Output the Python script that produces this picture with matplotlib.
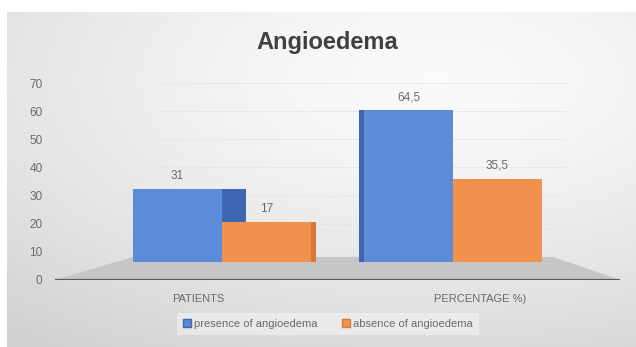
"""Angioedema: 3D-style column chart recreated with matplotlib."""

import matplotlib

matplotlib.use("Agg")

import matplotlib.pyplot as plt
import numpy as np
from matplotlib.patches import Patch, Polygon, Rectangle

plt.rcParams["font.family"] = ["Liberation Sans", "DejaVu Sans"]

TITLE = "Angioedema"
CATEGORIES = ["PATIENTS", "PERCENTAGE %)"]
SERIES_NAMES = ["presence of angioedema", "absence of angioedema"]
PRESENCE = [31, 64.5]
ABSENCE = [17, 35.5]
Y_TICKS = [0, 10, 20, 30, 40, 50, 60, 70]

BLUE = "#5b8bd9"
BLUE_SIDE = "#3f66b0"
ORANGE = "#f0914e"
ORANGE_SIDE = "#d6793b"
FLOOR = "#c6c6c6"
AXIS_LINE = "#5a5a5a"
TEXT_GRAY = "#6a6a6a"

W, H = 636, 347


def px_rect(x0, y_top, x1, y_bottom):
    """pixel box (top-left origin) -> figure fraction rect"""
    return [x0 / W, 1 - y_bottom / H, (x1 - x0) / W, (y_bottom - y_top) / H]


def fmt(v):
    s = f"{v:g}"
    return s.replace(".", ",")


fig = plt.figure(figsize=(W / 100, H / 100), dpi=100)
fig.patch.set_facecolor("white")

# background with soft radial gradient
bg = fig.add_axes(px_rect(7, 12, W, H))
gx, gy = np.meshgrid(np.linspace(0, 1, 300), np.linspace(0, 1, 200))
dist = np.sqrt(((gx - 0.68) / 1.1) ** 2 + ((gy - 0.2) / 1.0) ** 2)
shade = np.clip(0.985 - 0.17 * dist ** 1.4, 0.82, 0.985)
bg.imshow(np.dstack([shade] * 3), aspect="auto", extent=[0, 1, 1, 0])
bg.set_axis_off()

# front axis: floor, baseline, tick labels, category labels
ax_f = fig.add_axes(px_rect(55, 83, 620, 280))
ax_f.patch.set_alpha(0)
ax_f.set_xlim(-0.507, 1.496)
ax_f.set_ylim(0, 70)
ax_f.set_yticks(Y_TICKS)
ax_f.set_yticklabels([str(t) for t in Y_TICKS], color=TEXT_GRAY, fontsize=8.5)
x_cat = np.arange(len(CATEGORIES))
ax_f.set_xticks(x_cat)
ax_f.set_xticklabels(CATEGORIES, color=TEXT_GRAY, fontsize=8)
ax_f.tick_params(length=0)
ax_f.tick_params(axis="y", pad=9)
ax_f.tick_params(axis="x", pad=10)
for sp in ax_f.spines.values():
    sp.set_visible(False)
# faint back-wall gridlines
for t in Y_TICKS[1:]:
    ax_f.plot([-0.15, 1.3], [t, t], color="#e6e6e6", lw=0.6, zorder=0)
floor = Polygon([(-0.507, 0), (-0.23, 8.2), (1.259, 8.2), (1.496, 0)],
                closed=True, facecolor=FLOOR, edgecolor="none", zorder=1)
ax_f.add_patch(floor)
ax_f.plot([-0.507, 1.496], [0, 0], color=AXIS_LINE, lw=1.6, zorder=2)

# back (bar) axis
ax_b = fig.add_axes(px_rect(55, 97.5, 620, 262))
ax_b.patch.set_alpha(0)
ax_b.set_xlim(-0.723, 1.723)
ax_b.set_ylim(0, 70)
ax_b.set_axis_off()

bw = 0.385
x_grp = np.arange(len(CATEGORIES))
vanish = 0.5
depth_k = 0.22

for i, (xc, vals) in enumerate(zip(x_grp, zip(PRESENCE, ABSENCE))):
    for j, (v, side) in enumerate(zip(vals, [BLUE_SIDE, ORANGE_SIDE])):
        left = xc - bw if j == 0 else xc
        right = left + bw
        # side face seen through perspective
        if right < vanish + 0.1:
            d = max((vanish - right) * depth_k, 0.02)
            ax_b.add_patch(Rectangle((right - 0.005, 0), d, v, facecolor=side,
                                     edgecolor="none", zorder=2 + j * 2))
        elif left > vanish and j == 0:
            d = max((left - vanish) * depth_k * 0.2, 0.02)
            ax_b.add_patch(Rectangle((left - d, 0), d, v, facecolor=side,
                                     edgecolor="none", zorder=2 + j * 2))

bars_p = ax_b.bar(x_grp - bw / 2, PRESENCE, bw, color=BLUE, zorder=3)
bars_a = ax_b.bar(x_grp + bw / 2, ABSENCE, bw, color=ORANGE, zorder=5)

for bars, vals in [(bars_p, PRESENCE), (bars_a, ABSENCE)]:
    for b, v in zip(bars, vals):
        ax_b.annotate(fmt(v), (b.get_x() + b.get_width() / 2, v),
                      xytext=(0, 5), textcoords="offset points",
                      ha="center", va="bottom", fontsize=8.5, color=TEXT_GRAY,
                      zorder=6)

fig.text(327 / W, 1 - 43 / H, TITLE, ha="center", va="center",
         fontsize=17, fontweight="bold", color="#404040")

handles = [Patch(facecolor=BLUE, edgecolor=BLUE_SIDE),
           Patch(facecolor=ORANGE, edgecolor=ORANGE_SIDE)]
leg = fig.legend(handles, SERIES_NAMES, loc="center", ncol=2,
                 bbox_to_anchor=(328 / W, 1 - 324 / H), frameon=True,
                 fontsize=8, handlelength=0.7, handleheight=0.7,
                 handletextpad=0.3, columnspacing=2.2, fancybox=False,
                 borderpad=0.5)
leg.get_frame().set_facecolor("white")
leg.get_frame().set_alpha(0.4)
leg.get_frame().set_edgecolor("none")
for t in leg.get_texts():
    t.set_color(TEXT_GRAY)

fig.savefig("out.png", dpi=100)
